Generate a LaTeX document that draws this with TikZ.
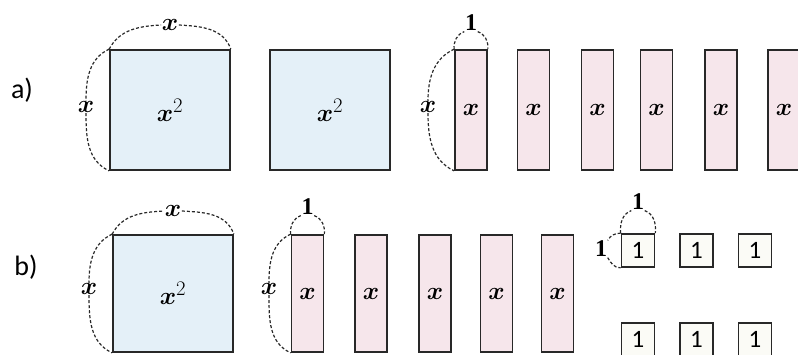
\documentclass[tikz,border=0pt]{standalone}
\usepackage{fontspec}
\setmainfont{Liberation Serif}
\newfontfamily\calib{Carlito}
\definecolor{bluefill}{RGB}{228,240,248}
\definecolor{pinkfill}{RGB}{246,230,235}
\definecolor{onefill}{RGB}{251,251,246}
\definecolor{ink}{RGB}{40,40,40}
\newcommand{\vx}{$\boldsymbol{x}$}
\newcommand{\vxx}{$\boldsymbol{x}^{2}$}
\usepackage{amsmath}
\begin{document}
\begin{tikzpicture}[x=1pt,y=-1pt,
  box/.style={draw=ink,line width=1.7pt,inner sep=0pt,
    font=\fontsize{28}{28}\selectfont},
  bigsq/.style={box,fill=bluefill,minimum width=120pt,minimum height=120pt},
  bigsqb/.style={box,fill=bluefill,minimum width=120pt,minimum height=117pt},
  xrect/.style={box,fill=pinkfill,minimum width=32pt,minimum height=120pt},
  xrectb/.style={box,fill=pinkfill,minimum width=32pt,minimum height=117pt},
  unit/.style={box,fill=onefill,minimum width=33pt,minimum height=33pt,
    font=\fontsize{25}{25}\selectfont\calib},
  arcline/.style={ink,line width=1.2pt,dash pattern=on 3pt off 2pt},
  lx/.style={inner sep=0.5pt,font=\fontsize{28}{28}\selectfont},
  lone/.style={inner sep=0.5pt,font=\fontsize{24}{24}\selectfont\bfseries},
  tag/.style={inner sep=0pt,font=\fontsize{28}{28}\selectfont\calib},
]
\useasboundingbox (0,0) rectangle (798,354);
% ---------------- row a
\node[tag] (ta) at (22,90) {a)};
\node[bigsq] (a1) at (170,110) {\vxx};
\node[bigsq] (a2) at (330,110) {\vxx};
\node[xrect] (r1) at (471,110) {\vx};
\node[xrect] (r2) at (533.5,110) {\vx};
\node[xrect] (r3) at (597.5,110) {\vx};
\node[xrect] (r4) at (656.5,110) {\vx};
\node[xrect] (r5) at (721,110) {\vx};
\node[xrect] (r6) at (784,110) {\vx};
% arcs of a1
\node[lx] (a1t) at (170,25) {\vx};
\node[lx] (a1l) at (86,107) {\vx};
\draw[arcline] (a1.north west) to[out=62,in=183] (a1t.west);
\draw[arcline] (a1t.east) to[out=-3,in=110] (a1.north east);
\draw[arcline] (a1.north west) to[out=205,in=90] (a1l.north);
\draw[arcline] (a1l.south) to[out=270,in=155] (a1.south west);
% arcs of r1
\node[lone] (r1t) at (471,23) {1};
\node[lx] (r1l) at (428,107) {\vx};
\draw[arcline] (r1.north west) to[out=95,in=200] (r1t.south west);
\draw[arcline] (r1t.south east) to[out=-20,in=85] (r1.north east);
\draw[arcline] (r1.north west) to[out=205,in=90] (r1l.north);
\draw[arcline] (r1l.south) to[out=270,in=155] (r1.south west);
% ---------------- row b
\node[tag] (tb) at (26,267) {b)};
\node[bigsqb] (b1) at (173,293.5) {\vxx};
\node[xrectb] (q1) at (307.5,293.5) {\vx};
\node[xrectb] (q2) at (371,293.5) {\vx};
\node[xrectb] (q3) at (435,293.5) {\vx};
\node[xrectb] (q4) at (496.5,293.5) {\vx};
\node[xrectb] (q5) at (557.5,293.5) {\vx};
\node[unit] (u1) at (638,250.5) {1};
\node[unit] (u2) at (696.5,250.5) {1};
\node[unit] (u3) at (755,250.5) {1};
\node[unit] (u4) at (638,339.5) {1};
\node[unit] (u5) at (696.5,339.5) {1};
\node[unit] (u6) at (755,339.5) {1};
% arcs of b1
\node[lx] (b1t) at (173,211) {\vx};
\node[lx] (b1l) at (89,289) {\vx};
\draw[arcline] (b1.north west) to[out=62,in=183] (b1t.west);
\draw[arcline] (b1t.east) to[out=-3,in=110] (b1.north east);
\draw[arcline] (b1.north west) to[out=205,in=90] (b1l.north);
\draw[arcline] (b1l.south) to[out=270,in=155] (b1.south west);
% arcs of q1
\node[lone] (q1t) at (307.5,207) {1};
\node[lx] (q1l) at (269,289) {\vx};
\draw[arcline] (q1.north west) to[out=95,in=200] (q1t.south west);
\draw[arcline] (q1t.south east) to[out=-20,in=85] (q1.north east);
\draw[arcline] (q1.north west) to[out=205,in=90] (q1l.north);
\draw[arcline] (q1l.south) to[out=270,in=155] (q1.south west);
% arcs of u1
\node[lone] (u1t) at (638,202) {1};
\node[lone] (u1l) at (601,249) {1};
\draw[arcline] (u1.north west) to[out=95,in=200] (u1t.south west);
\draw[arcline] (u1t.south east) to[out=-20,in=85] (u1.north east);
\draw[arcline] (u1.north west) to[out=180,in=60] (u1l.north east);
\draw[arcline] (u1l.south east) to[out=-60,in=180] (u1.south west);
\end{tikzpicture}
\end{document}
